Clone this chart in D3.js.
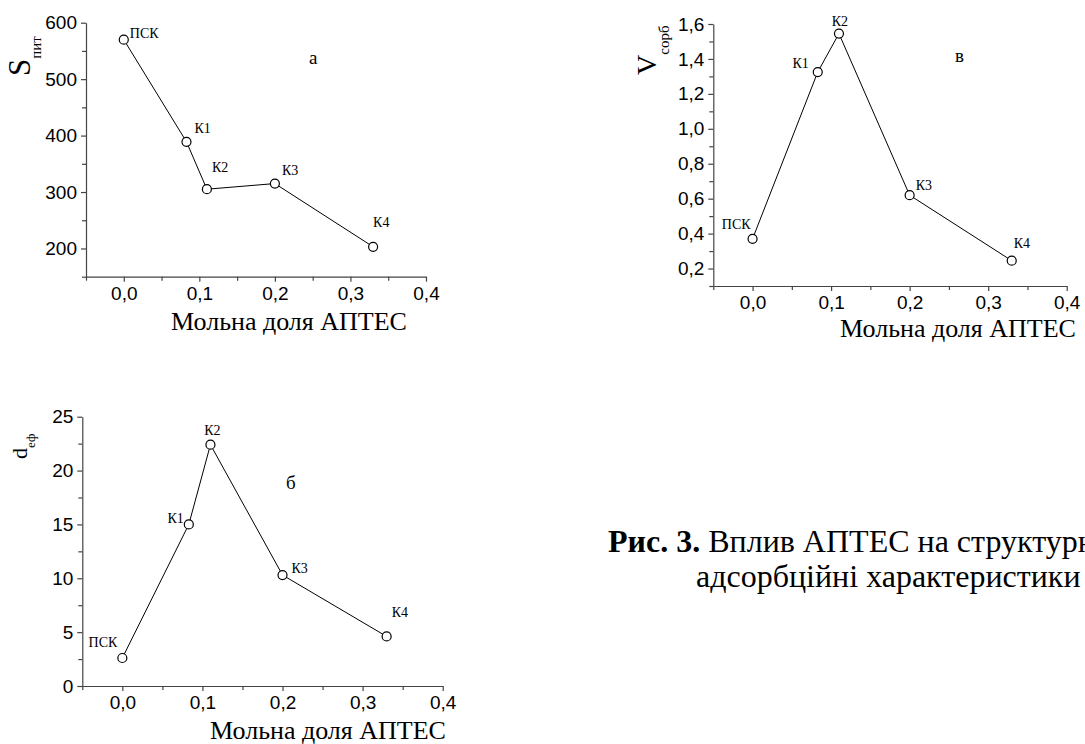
<!DOCTYPE html>
<html>
<head>
<meta charset="utf-8">
<script src="https://cdn.jsdelivr.net/npm/d3@7"></script>
<style>
  html, body { margin: 0; padding: 0; background: #fff; }
  svg { display: block; }
</style>
</head>
<body>
<svg id="chart" width="1085" height="744"></svg>
<script>
// ---------------- data ----------------
const samples = ["ПСК", "К1", "К2", "К3", "К4"];
const aptesFraction = [0, 0.083, 0.11, 0.2, 0.33];
const surfaceArea = [570, 389, 305, 315, 203];        // S пит (panel а)
const effDiameter = [2.6, 15, 22.4, 10.3, 4.6];       // d еф (panel б)
const sorbVolume = [0.37, 1.325, 1.545, 0.62, 0.245]; // V сорб (panel в)

const xTicks = [0, 0.1, 0.2, 0.3, 0.4];
const xTickLabels = ["0,0", "0,1", "0,2", "0,3", "0,4"];
const sTicks = [200, 300, 400, 500, 600];
const dTicks = [0, 5, 10, 15, 20, 25];
const vTicks = [0.2, 0.4, 0.6, 0.8, 1.0, 1.2, 1.4, 1.6];
const vTickLabels = ["0,2", "0,4", "0,6", "0,8", "1,0", "1,2", "1,4", "1,6"];
const xTitle = "Мольна доля АПТЕС";
const captionBold = "Рис. 3.";
const captionLine1 = " Вплив АПТЕС на структурні";
const captionLine2 = "адсорбційні характеристики";

// ---------------- layout ----------------
const SERIF = '"Liberation Serif", "Times New Roman", serif';
const SANS = '"Liberation Sans", Arial, sans-serif';
const svg = d3.select("#chart");

const panels = [
  {
    key: "a", values: surfaceArea, yDomain: [150, 600], yTicks: sTicks,
    yLabels: sTicks.map(String), yMinorStep: 50,
    x0: 86, x1: 426, yTop: 22.7, yBottom: 276.7,
    letter: "а", letterPos: [309, 64],
    ylab: { main: "S", sub: "пит", x: 30, y: 76, mainSize: 31, subSize: 15, subDy: 11 },
    labelOff: [[6, -2, "start"], [8, -9, "start"], [5, -17, "start"], [7, -9, "start"], [0, -20, "start"]],
    titleX: 289, titleDy: 53
  },
  {
    key: "v", values: sorbVolume, yDomain: [0.1, 1.6], yTicks: vTicks,
    yLabels: vTickLabels, yMinorStep: 0.1,
    x0: 713.3, x1: 1066.7, yTop: 24, yBottom: 286,
    letter: "в", letterPos: [955, 62],
    ylab: { main: "V", sub: "сорб", x: 656, y: 75, mainSize: 28, subSize: 15, subDy: 13 },
    labelOff: [[-2, -10, "end"], [-9, -4, "end"], [1, -8, "middle"], [6, -5, "start"], [2, -13, "start"]],
    titleX: 958, titleDy: 51
  },
  {
    key: "b", values: effDiameter, yDomain: [0, 25], yTicks: dTicks,
    yLabels: dTicks.map(String), yMinorStep: 2.5,
    x0: 82.3, x1: 442.7, yTop: 416.7, yBottom: 686,
    letter: "б", letterPos: [286, 489],
    ylab: { main: "d", sub: "еф", x: 27, y: 459, mainSize: 22, subSize: 13, subDy: 8 },
    labelOff: [[-5, -11, "end"], [-5, -1, "end"], [2, -10, "middle"], [9, -2, "start"], [5, -19, "start"]],
    titleX: 328, titleDy: 53
  }
];

panels.forEach(p => {
  const x = d3.scaleLinear().domain([-0.05, 0.4]).range([p.x0, p.x1]);
  const y = d3.scaleLinear().domain(p.yDomain).range([p.yBottom, p.yTop]);
  const g = svg.append("g").attr("class", "panel-" + p.key);

  // minor ticks
  const xMinor = d3.range(-0.05, 0.4001, 0.05).filter(v => Math.abs(Math.round(v * 10) - v * 10) > 1e-6);
  const yMinor = d3.range(p.yDomain[0], p.yDomain[1] + 1e-9, p.yMinorStep)
    .filter(v => !p.yTicks.some(t => Math.abs(t - v) < 1e-9));

  const xMinorAxis = d3.axisBottom(x).tickValues(xMinor).tickSize(4).tickFormat("");
  g.append("g").attr("transform", `translate(0,${p.yBottom})`).call(xMinorAxis)
    .call(s => s.select(".domain").remove());
  const yMinorAxis = d3.axisLeft(y).tickValues(yMinor).tickSize(4).tickFormat("");
  g.append("g").attr("transform", `translate(${p.x0},0)`).call(yMinorAxis)
    .call(s => s.select(".domain").remove());

  // major axes
  const xAxis = d3.axisBottom(x).tickValues(xTicks).tickSize(5).tickPadding(5)
    .tickFormat((d, i) => xTickLabels[i]).tickSizeOuter(0);
  const gx = g.append("g").attr("transform", `translate(0,${p.yBottom})`).call(xAxis);
  gx.selectAll("text").attr("font-size", 19).attr("font-family", SANS).attr("fill", "#000");

  const yAxis = d3.axisLeft(y).tickValues(p.yTicks).tickSize(5).tickPadding(4)
    .tickFormat((d, i) => p.yLabels[i]).tickSizeOuter(0);
  const gy = g.append("g").attr("transform", `translate(${p.x0},0)`).call(yAxis);
  gy.selectAll("text").attr("font-size", 19).attr("font-family", SANS).attr("fill", "#000");

  g.selectAll(".domain, .tick line").attr("stroke", "#444").attr("stroke-width", 1.2);

  // x title
  g.append("text").attr("x", p.titleX).attr("y", p.yBottom + p.titleDy)
    .attr("text-anchor", "middle").attr("font-family", SERIF).attr("font-size", 26)
    .text(xTitle);

  // y title (rotated, with subscript)
  const yl = g.append("text")
    .attr("transform", `translate(${p.ylab.x},${p.ylab.y}) rotate(-90)`)
    .attr("font-family", SERIF);
  yl.append("tspan").attr("font-size", p.ylab.mainSize).text(p.ylab.main);
  yl.append("tspan").attr("font-size", p.ylab.subSize).attr("dy", p.ylab.subDy).text(p.ylab.sub);

  // panel letter
  g.append("text").attr("x", p.letterPos[0]).attr("y", p.letterPos[1])
    .attr("font-family", SERIF).attr("font-size", 19).text(p.letter);

  // line + markers
  const pts = aptesFraction.map((xv, i) => ({ x: xv, y: p.values[i], name: samples[i], off: p.labelOff[i] }));
  g.append("path").datum(pts)
    .attr("d", d3.line().x(d => x(d.x)).y(d => y(d.y)))
    .attr("fill", "none").attr("stroke", "#000").attr("stroke-width", 1);
  g.selectAll("circle").data(pts).join("circle")
    .attr("cx", d => x(d.x)).attr("cy", d => y(d.y)).attr("r", 4.5)
    .attr("fill", "#fff").attr("stroke", "#000").attr("stroke-width", 1.2);
  g.selectAll("text.pl").data(pts).join("text").attr("class", "pl")
    .attr("x", d => x(d.x) + d.off[0]).attr("y", d => y(d.y) + d.off[1])
    .attr("text-anchor", d => d.off[2])
    .attr("font-family", SERIF).attr("font-size", 14).text(d => d.name);
});

// caption
const cap = svg.append("text").attr("x", 608).attr("y", 552)
  .attr("font-family", SERIF).attr("font-size", 32);
cap.append("tspan").attr("font-weight", "bold").text(captionBold);
cap.append("tspan").text(captionLine1);
svg.append("text").attr("x", 696).attr("y", 587)
  .attr("font-family", SERIF).attr("font-size", 32).text(captionLine2);
</script>
</body>
</html>
